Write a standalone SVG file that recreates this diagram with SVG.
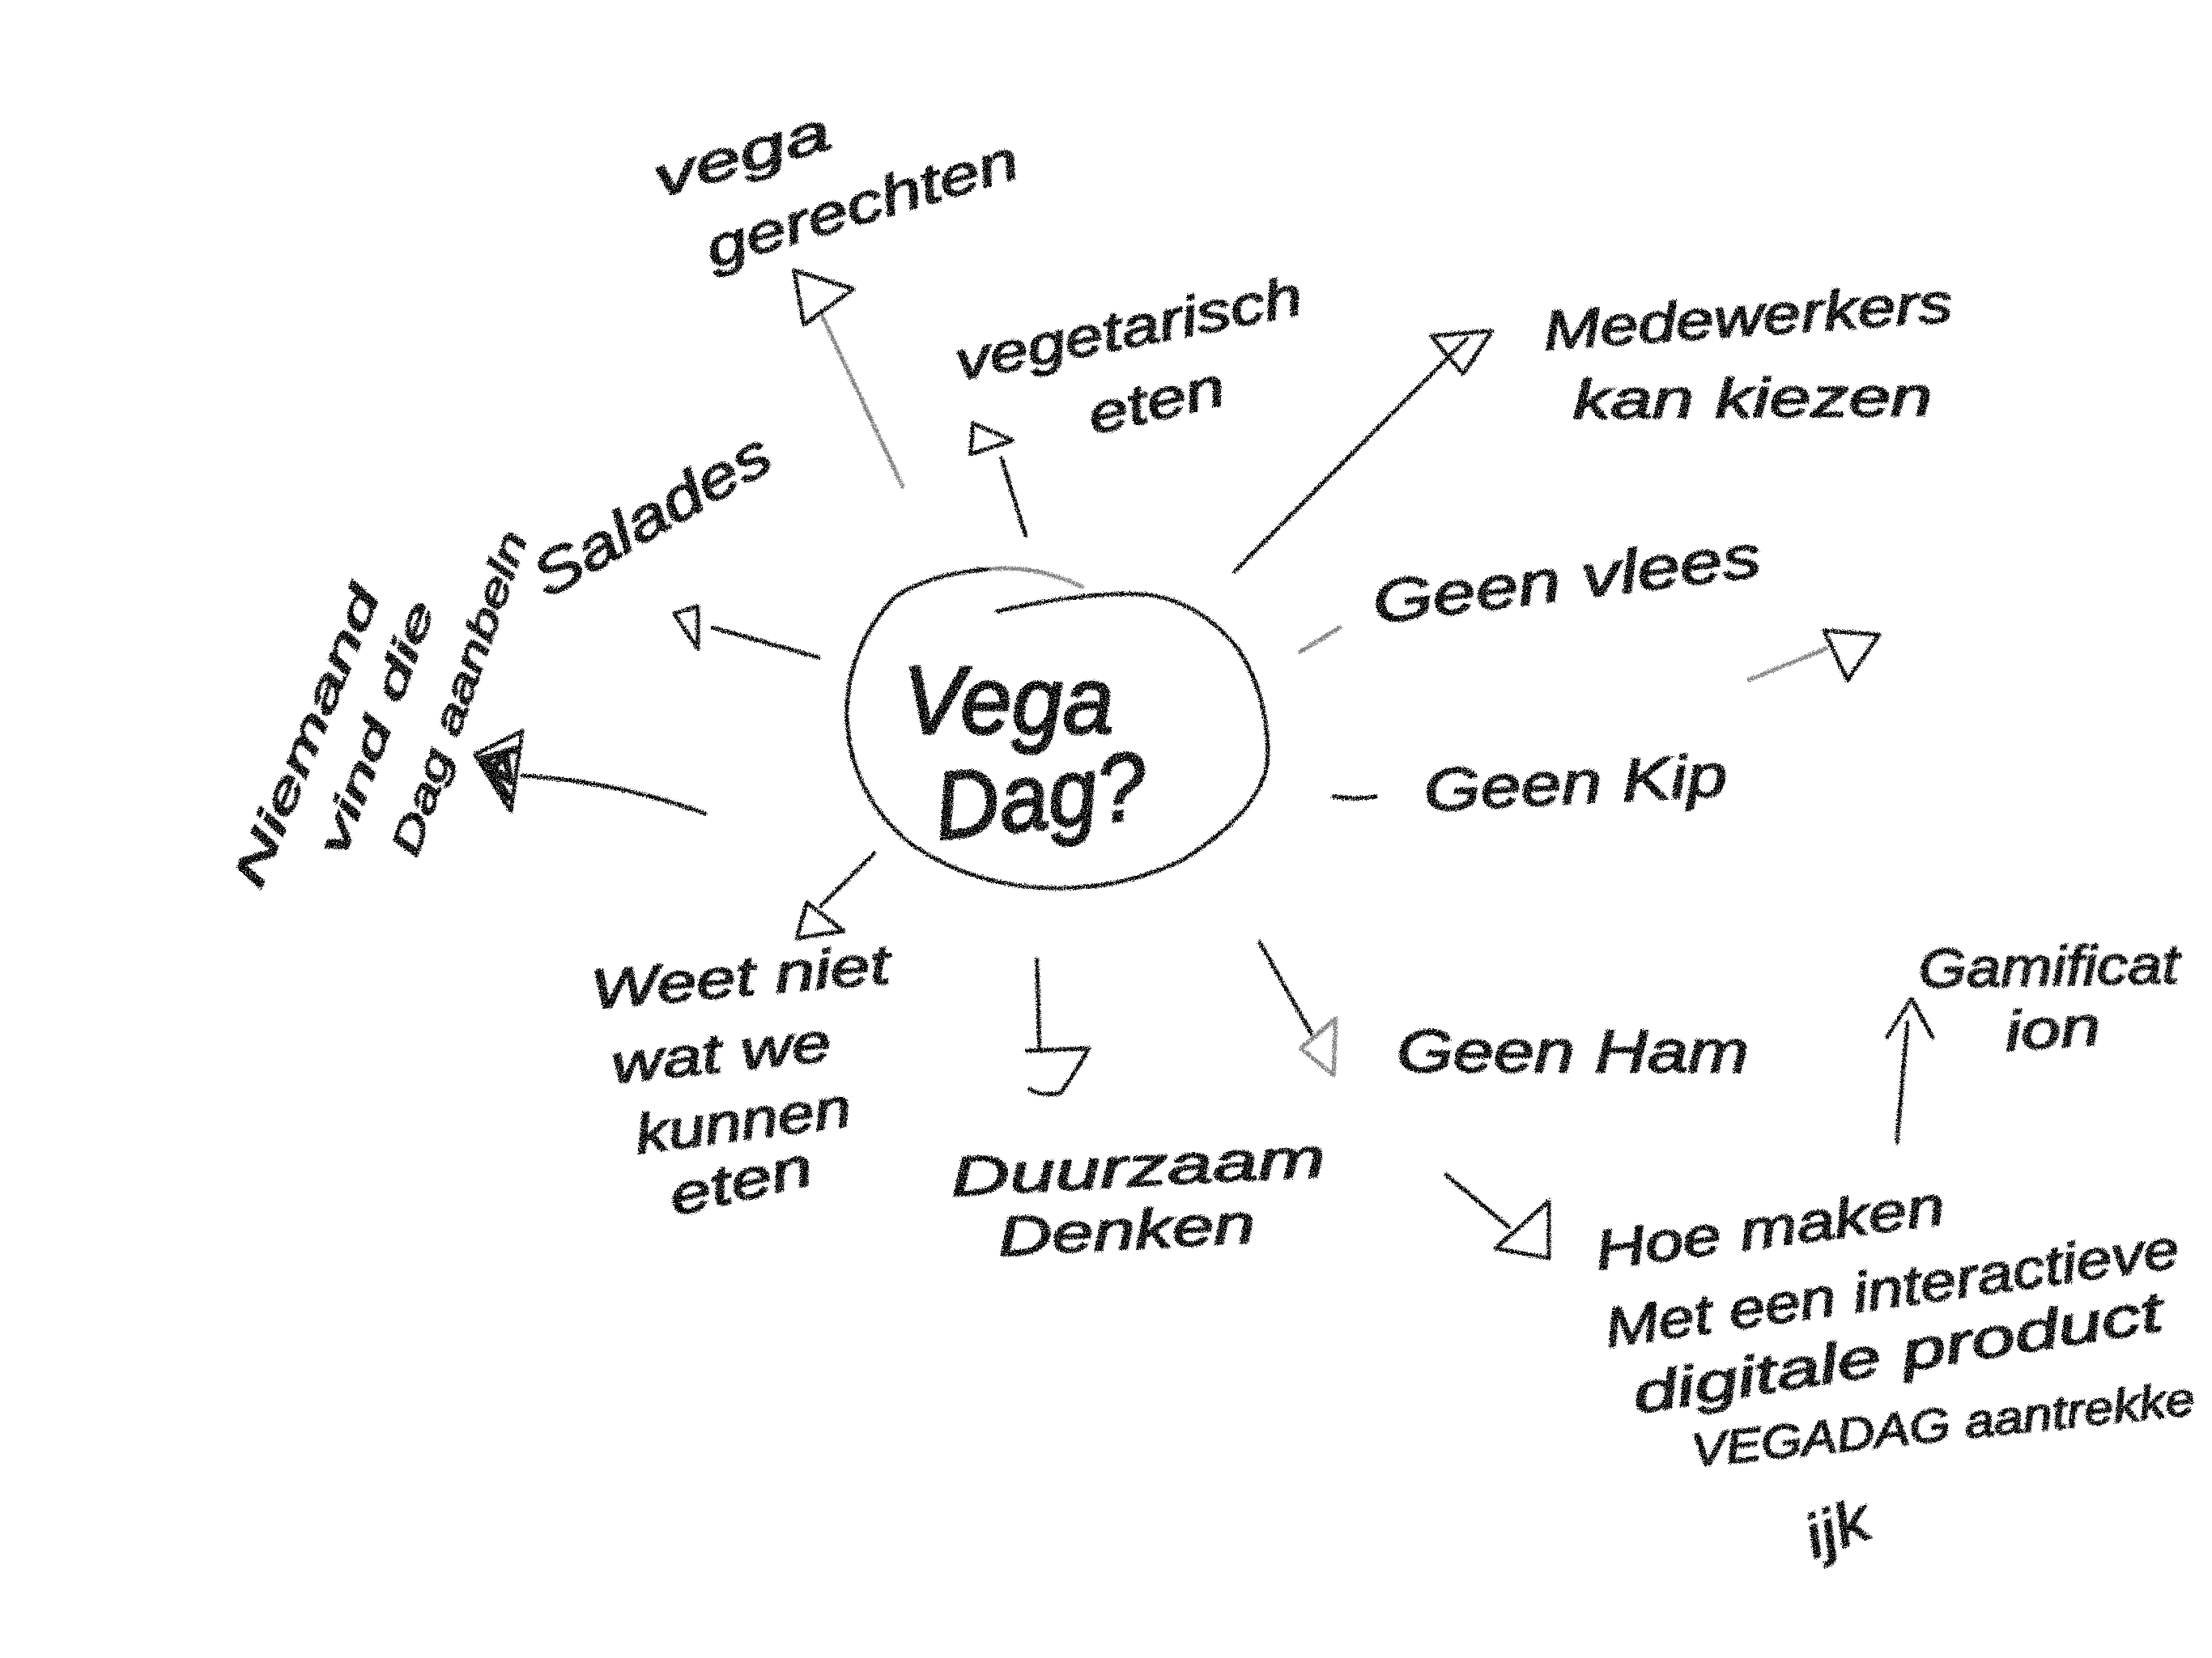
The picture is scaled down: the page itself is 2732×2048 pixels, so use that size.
<svg xmlns="http://www.w3.org/2000/svg" width="2732" height="2048" viewBox="0 0 2732 2048">
<style>
text{font-family:"Liberation Sans",Arial,sans-serif;font-style:italic;fill:#000;stroke:#000;stroke-width:2;font-size:68px}
.l{fill:none;stroke:#000;stroke-width:5;stroke-linecap:round;stroke-linejoin:round}
.f{stroke-opacity:.5}
.big{font-size:118px;stroke-width:3}
.m{font-size:74px}
.s{font-size:54px}
.xs{font-size:50px}
.c{font-size:58px}
</style>
<defs>
<filter id="pencil" x="0" y="0" width="2732" height="2048" filterUnits="userSpaceOnUse">
<feTurbulence type="fractalNoise" baseFrequency="0.6" numOctaves="2" seed="4" result="n"/>
<feDisplacementMap in="SourceGraphic" in2="n" scale="7" xChannelSelector="R" yChannelSelector="G" result="d"/>
<feColorMatrix in="n" type="matrix" values="0 0 0 0 0 0 0 0 0 0 0 0 0 0 0 5 0 0 0 -1.2" result="g"/>
<feComposite in="d" in2="g" operator="in"/>
</filter>
</defs>
<rect width="2732" height="2048" fill="#fff"/>
<g filter="url(#pencil)">
<g id="connectors">
<path class="l f" d="M1115 601L1014 387"/><path class="l" d="M981 334L1054 357L993 401Z"/>
<path class="l" d="M1267 662L1237 566"/><path class="l" d="M1202 523L1251 544L1199 561Z"/>
<path class="l" d="M1525 706L1812 418"/><path class="l" d="M1768 415L1843 409L1807 462Z"/>
<path class="l f" d="M1606 805L1655 775"/>
<path class="l f" d="M2160 840L2256 801"/><path class="l" d="M2253 779L2321 784L2282 840Z"/>
<path class="l" d="M1647 984Q1675 988 1699 984"/>
<path class="l" d="M1556 1164L1620 1277"/><path class="l f" d="M1650 1258L1647 1328L1607 1295Z"/>
<path class="l" d="M1786 1451L1864 1516"/><path class="l" d="M1913 1484L1913 1554L1847 1542Z"/>
<path class="l" d="M2343 1411L2356 1263"/><path class="l" d="M2331 1281L2361 1234L2387 1281"/>
<path class="l" d="M1281 1185L1284 1298"/><path class="l" d="M1268 1298L1345 1295Q1325 1330 1310 1350Q1285 1355 1272 1345"/>
<path class="l" d="M1080 1054L1014 1119"/><path class="l" d="M997 1115L1042 1150L984 1159Z"/>
<path class="l" d="M871 1005Q760 965 645 958"/><path class="l" d="M645 903L631 1002M645 903L587 932L631 1002"/><path class="l" style="stroke-width:9" d="M640 925L595 938L630 965L625 935L605 950L628 985"/>
<path class="l" d="M1011 812L880 775"/><path class="l" d="M862 749L833 758L862 801Z"/>
</g>
<g id="centre">
<path class="l f" d="M1337 725C1290 702 1250 700 1220 703"/>
<path class="l" d="M1220 703C1165 708 1130 720 1105 738C1065 780 1046 830 1046 883C1048 960 1085 1010 1126 1043C1180 1080 1240 1097 1306 1097C1370 1097 1420 1082 1459 1063C1530 1020 1565 975 1566 933C1566 880 1552 835 1528 800C1500 765 1465 742 1421 735C1370 729 1290 742 1232 755"/>
<text class="big" transform="translate(1115 906)" textLength="261" lengthAdjust="spacingAndGlyphs">Vega</text>
<text class="big" transform="translate(1159 1037) rotate(-6)" textLength="262" lengthAdjust="spacingAndGlyphs">Dag?</text>
</g>
<g id="vega-gerechten">
<text transform="translate(815 244) rotate(-16)" textLength="224" lengthAdjust="spacingAndGlyphs">vega</text>
<text transform="translate(880 331) rotate(-16.5)" textLength="399" lengthAdjust="spacingAndGlyphs">gerechten</text>
</g>
<g id="vegetarisch-eten">
<text transform="translate(1185 470) rotate(-11)" textLength="435" lengthAdjust="spacingAndGlyphs">vegetarisch</text>
<text transform="translate(1350 537) rotate(-13)" textLength="171" lengthAdjust="spacingAndGlyphs">eten</text>
</g>
<g id="medewerkers">
<text transform="translate(1908 432) rotate(-4)" textLength="506" lengthAdjust="spacingAndGlyphs">Medewerkers</text>
<text transform="translate(1943 517) rotate(-0.5)" textLength="444" lengthAdjust="spacingAndGlyphs">kan kiezen</text>
</g>
<g id="geen-vlees"><text class="m" transform="translate(1699 770) rotate(-7)" textLength="482" lengthAdjust="spacingAndGlyphs">Geen vlees</text></g>
<g id="geen-kip"><text class="m" transform="translate(1760 1002) rotate(-3)" textLength="375" lengthAdjust="spacingAndGlyphs">Geen Kip</text></g>
<g id="geen-ham"><text class="m" transform="translate(1725 1324)" textLength="435" lengthAdjust="spacingAndGlyphs">Geen Ham</text></g>
<g id="gamification">
<text transform="translate(2370 1220) rotate(-1)" textLength="322" lengthAdjust="spacingAndGlyphs">Gamificat</text>
<text transform="translate(2478 1298) rotate(-4)" textLength="118" lengthAdjust="spacingAndGlyphs">ion</text>
</g>
<g id="hoe-maken">
<text transform="translate(1974 1568) rotate(-7.5)" textLength="434" lengthAdjust="spacingAndGlyphs">Hoe maken</text>
<text transform="translate(1986 1664) rotate(-8)" textLength="715" lengthAdjust="spacingAndGlyphs">Met een interactieve</text>
<text transform="translate(2021 1746) rotate(-9)" textLength="661" lengthAdjust="spacingAndGlyphs">digitale product</text>
<text class="c" transform="translate(2091 1812) rotate(-6)" textLength="625" lengthAdjust="spacingAndGlyphs">VEGADAG aantrekke</text>
<text class="m" transform="translate(2240 1925) rotate(-20)" textLength="80" lengthAdjust="spacingAndGlyphs">ijk</text>
</g>
<g id="weet-niet">
<text transform="translate(732 1246) rotate(-5)" textLength="370" lengthAdjust="spacingAndGlyphs">Weet niet</text>
<text transform="translate(758 1338) rotate(-6)" textLength="272" lengthAdjust="spacingAndGlyphs">wat we</text>
<text transform="translate(788 1425) rotate(-7.5)" textLength="268" lengthAdjust="spacingAndGlyphs">kunnen</text>
<text transform="translate(833 1502) rotate(-13)" textLength="179" lengthAdjust="spacingAndGlyphs">eten</text>
</g>
<g id="duurzaam">
<text transform="translate(1176 1477) rotate(-3)" textLength="463" lengthAdjust="spacingAndGlyphs">Duurzaam</text>
<text transform="translate(1234 1551) rotate(-3)" textLength="318" lengthAdjust="spacingAndGlyphs">Denken</text>
</g>
<g id="salades"><text class="m" transform="translate(676 740) rotate(-30)" textLength="327" lengthAdjust="spacingAndGlyphs">Salades</text></g>
<g id="niemand">
<text class="s" transform="translate(322 1100) rotate(-68)" textLength="395" lengthAdjust="spacingAndGlyphs">Niemand</text>
<text class="xs" transform="translate(425 1060) rotate(-70)" textLength="330" lengthAdjust="spacingAndGlyphs">vind die</text>
<text class="xs" transform="translate(515 1060) rotate(-71)" textLength="420" lengthAdjust="spacingAndGlyphs">Dag aanbeln</text>
</g>
</g>
</svg>
